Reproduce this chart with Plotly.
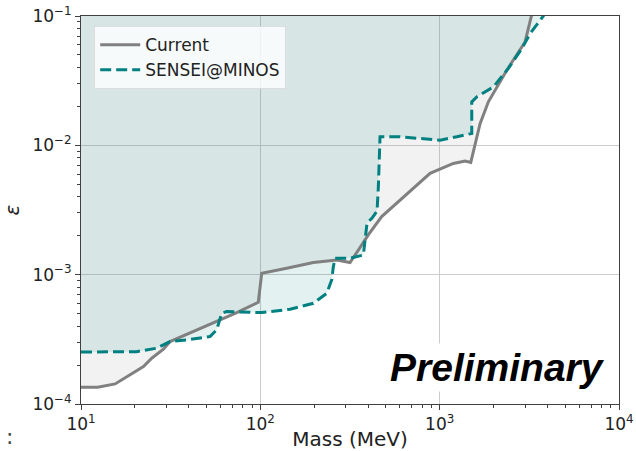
import plotly.graph_objects as go

# ---------------- data ----------------
current_mass = [10.0, 12.4, 15.5, 18.8, 22.3, 24.8, 28.8, 31.4, 57.1, 73.9, 97.4, 101.8,
                140.3, 197.5, 266.7, 316.4, 352, 400, 475, 601, 777, 884, 1192, 1386,
                1491, 1576, 1680, 1869, 2367, 2994, 3264, 3400]
current_eps = [1.35e-4, 1.35e-4, 1.43e-4, 1.68e-4, 1.95e-4, 2.26e-4, 2.65e-4, 3.04e-4,
               4.34e-4, 5.09e-4, 6.12e-4, 1.026e-3, 1.12e-3, 1.24e-3, 1.30e-3, 1.24e-3,
               1.55e-3, 2.03e-3, 2.81e-3, 3.78e-3, 5.22e-3, 6.07e-3, 7.24e-3, 7.55e-3,
               7.38e-3, 1.03e-2, 1.47e-2, 2.17e-2, 3.81e-2, 6.30e-2, 0.1, 0.13]

sensei_mass = [10, 16.5, 20.4, 26.4, 31.4, 38.9, 52.4, 57.1, 60.9, 65.0, 101.8, 146.4,
               197.5, 234.6, 250, 255.4, 261, 316.4, 375.4, 383.7, 393.6, 419.8, 447.6,
               455, 462, 465, 601, 1005, 1246, 1510, 1510, 1610, 1993, 2416, 2871, 3193,
               3788, 3910]
sensei_eps = [2.52e-4, 2.52e-4, 2.54e-4, 2.70e-4, 3.04e-4, 3.13e-4, 3.32e-4, 3.74e-4,
              5.04e-4, 5.18e-4, 5.09e-4, 5.40e-4, 6.01e-4, 7.18e-4, 9.10e-4, 1.153e-3,
              1.34e-3, 1.34e-3, 1.42e-3, 1.85e-3, 2.51e-3, 2.74e-3, 3.10e-3, 4.75e-3,
              7.69e-3, 1.164e-2, 1.164e-2, 1.096e-2, 1.164e-2, 1.236e-2, 2.17e-2,
              2.37e-2, 2.83e-2, 3.93e-2, 5.60e-2, 7.31e-2, 0.1, 0.108]

x_tick_exp = [1, 2, 3, 4]
y_tick_exp = [-4, -3, -2, -1]
x_range_exp = [1, 4]
y_range_exp = [-4, -1]

# ---------------- figure ----------------
TEAL = "#008080"
GREY = "#808080"
FONT = "DejaVu Sans"

top = 10 ** (y_range_exp[1] + 1)  # beyond the visible top -> region is closed off-screen


def closed(xs, ys):
    return xs + [xs[-1], xs[0]], ys + [top, top]


fig = go.Figure()

gx, gy = closed(current_mass, current_eps)
fig.add_trace(go.Scatter(x=gx, y=gy, mode="lines", fill="toself",
                         fillcolor="rgba(128,128,128,0.10)", line=dict(width=0),
                         showlegend=False, hoverinfo="skip"))
tx, ty = closed(sensei_mass, sensei_eps)
fig.add_trace(go.Scatter(x=tx, y=ty, mode="lines", fill="toself",
                         fillcolor="rgba(0,128,128,0.11)", line=dict(width=0),
                         showlegend=False, hoverinfo="skip"))

fig.add_trace(go.Scatter(x=current_mass, y=current_eps, mode="lines", name="Current",
                         line=dict(color=GREY, width=3)))
fig.add_trace(go.Scatter(x=sensei_mass, y=sensei_eps, mode="lines", name="SENSEI@MINOS",
                         line=dict(color=TEAL, width=3, dash="11px,5px")))


def minor_vals(exps):
    vals = []
    for e in exps[:-1]:
        for m in range(2, 10):
            vals.append(m * 10 ** e)
    return vals


axis_common = dict(
    type="log", showline=True, mirror=True, linecolor="#404040", linewidth=1,
    ticks="outside", ticklen=5, tickcolor="#404040", tickwidth=1,
    showgrid=True, gridcolor="#cccccc", gridwidth=1, zeroline=False,
    tickfont=dict(family=FONT, size=17, color="#222222"),
    automargin=False,
)

fig.update_xaxes(
    **axis_common, range=x_range_exp,
    tickmode="array", tickvals=[10 ** e for e in x_tick_exp],
    ticktext=[f"10<sup>{e}</sup>" for e in x_tick_exp],
    minor=dict(tickmode="array", tickvals=minor_vals(x_tick_exp), ticks="outside",
               ticklen=3, tickcolor="#404040", showgrid=False),
    title=dict(text="Mass (MeV)", font=dict(family=FONT, size=20, color="#222222")),
)
fig.update_yaxes(
    **axis_common, range=y_range_exp,
    tickmode="array", tickvals=[10 ** e for e in y_tick_exp],
    ticktext=[f"10<sup>\u2212{-e}</sup>" for e in y_tick_exp],
    minor=dict(tickmode="array", tickvals=minor_vals(y_tick_exp), ticks="outside",
               ticklen=3, tickcolor="#404040", showgrid=False),
    title=dict(text="<i>\u03b5</i>", font=dict(family=FONT, size=20, color="#222222")),
)

fig.add_annotation(
    xref="paper", yref="paper", x=0.775, y=0.093, xanchor="center", yanchor="middle",
    text="<b><i>Preliminary</i></b>", showarrow=False,
    font=dict(family="Liberation Sans", size=39, color="black"),
    bgcolor="white", borderpad=2,
)
fig.add_annotation(
    xref="paper", yref="paper", x=-0.132, y=-0.085, xanchor="center", yanchor="middle",
    text=":", showarrow=False, font=dict(family=FONT, size=22, color="#444444"),
)

fig.update_layout(
    width=636, height=451,
    margin=dict(l=81, r=17, t=16, b=47, autoexpand=False),
    paper_bgcolor="white", plot_bgcolor="white",
    font=dict(family=FONT, size=17, color="#222222"),
    legend=dict(x=0.0245, y=0.974, xanchor="left", yanchor="top",
                bgcolor="rgba(255,255,255,0.8)", bordercolor="#dddddd", borderwidth=1,
                font=dict(family=FONT, size=17, color="#222222"), itemwidth=40,
                tracegroupgap=0),
    showlegend=True,
)

fig.write_html("out.html", config={"displayModeBar": False})
